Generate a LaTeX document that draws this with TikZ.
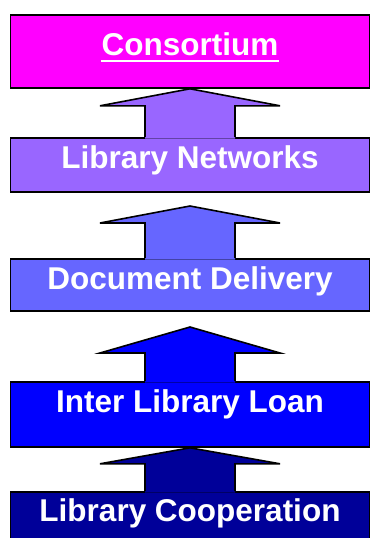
\documentclass[tikz,border=0pt]{standalone}
\usepackage{fontspec}
\setmainfont{Liberation Sans}
\usetikzlibrary{calc}

\definecolor{tierA}{HTML}{FF00FF}
\definecolor{tierB}{HTML}{9966FF}
\definecolor{tierC}{HTML}{6666FF}
\definecolor{tierD}{HTML}{0000FF}
\definecolor{tierE}{HTML}{000099}

% block arrow rising from the top edge of a tier to a tip
% #1 tip coordinate, #2 lower tier node, #3 head depth, #4 fill colour
\newcommand\tierarrow[4]{%
  \path (#1) ++(0,#3) coordinate (hb);
  \fill[#4] ($(#2.north)+(-45,1.5)$) -- ($(hb)+(-45,0)$) -- ($(hb)+(-90,0)$)
    -- (#1) -- ($(hb)+(90,0)$) -- ($(hb)+(45,0)$) -- ($(#2.north)+(45,1.5)$) -- cycle;
  \draw[arrowline] ($(#2.north)+(-45,0)$) -- ($(hb)+(-45,0)$) -- ($(hb)+(-90,0)$)
    -- (#1) -- ($(hb)+(90,0)$) -- ($(hb)+(45,0)$) -- ($(#2.north)+(45,0)$);
}

\begin{document}
\begin{tikzpicture}[x=1pt,y=-1pt,
  tier/.style={rectangle, draw=black, line width=1.8pt, inner sep=0pt,
    minimum width=359pt, anchor=north},
  caption/.style={text=white, inner sep=0pt, anchor=base,
    font=\bfseries\fontsize{31.5}{36}\selectfont},
  arrowline/.style={draw=black, line width=1.6pt, line join=miter}]
\useasboundingbox (0,0) rectangle (370,538);
\clip (0,0) rectangle (370,538);

% tiers, top to bottom
\node[tier, fill=tierA, minimum height=73pt] (cons) at (190,14) {};
\node[tier, fill=tierB, minimum height=54pt] (net)  at (190,137) {};
\node[tier, fill=tierC, minimum height=52pt] (doc)  at (190,258) {};
\node[tier, fill=tierD, minimum height=65pt] (ill)  at (190,381) {};
\node[tier, fill=tierE, minimum height=56pt] (coop) at (190,491) {};

% arrow tips
\coordinate (t1) at (cons.south);
\coordinate (t2) at (190,206);
\coordinate (t3) at (190,327);
\coordinate (t4) at (ill.south);

\tierarrow{t1}{net}{17}{tierB}
\tierarrow{t2}{doc}{17}{tierC}
\tierarrow{t3}{ill}{26}{tierD}
\tierarrow{t4}{coop}{16}{tierE}

% captions
\node[caption] (lcons) at (190,55) {Consortium};
\draw[white, line width=2.6pt] ($(lcons.base west)+(0,6)$) -- ($(lcons.base east)+(0,6)$);
\node[caption] (lnet)  at (190,168)   {Library Networks};
\node[caption] (ldoc)  at (190,289.3) {Document Delivery};
\node[caption] (lill)  at (190,412.7) {Inter Library Loan};
\node[caption] (lcoop) at (190,521.3) {Library Cooperation};
\end{tikzpicture}
\end{document}
